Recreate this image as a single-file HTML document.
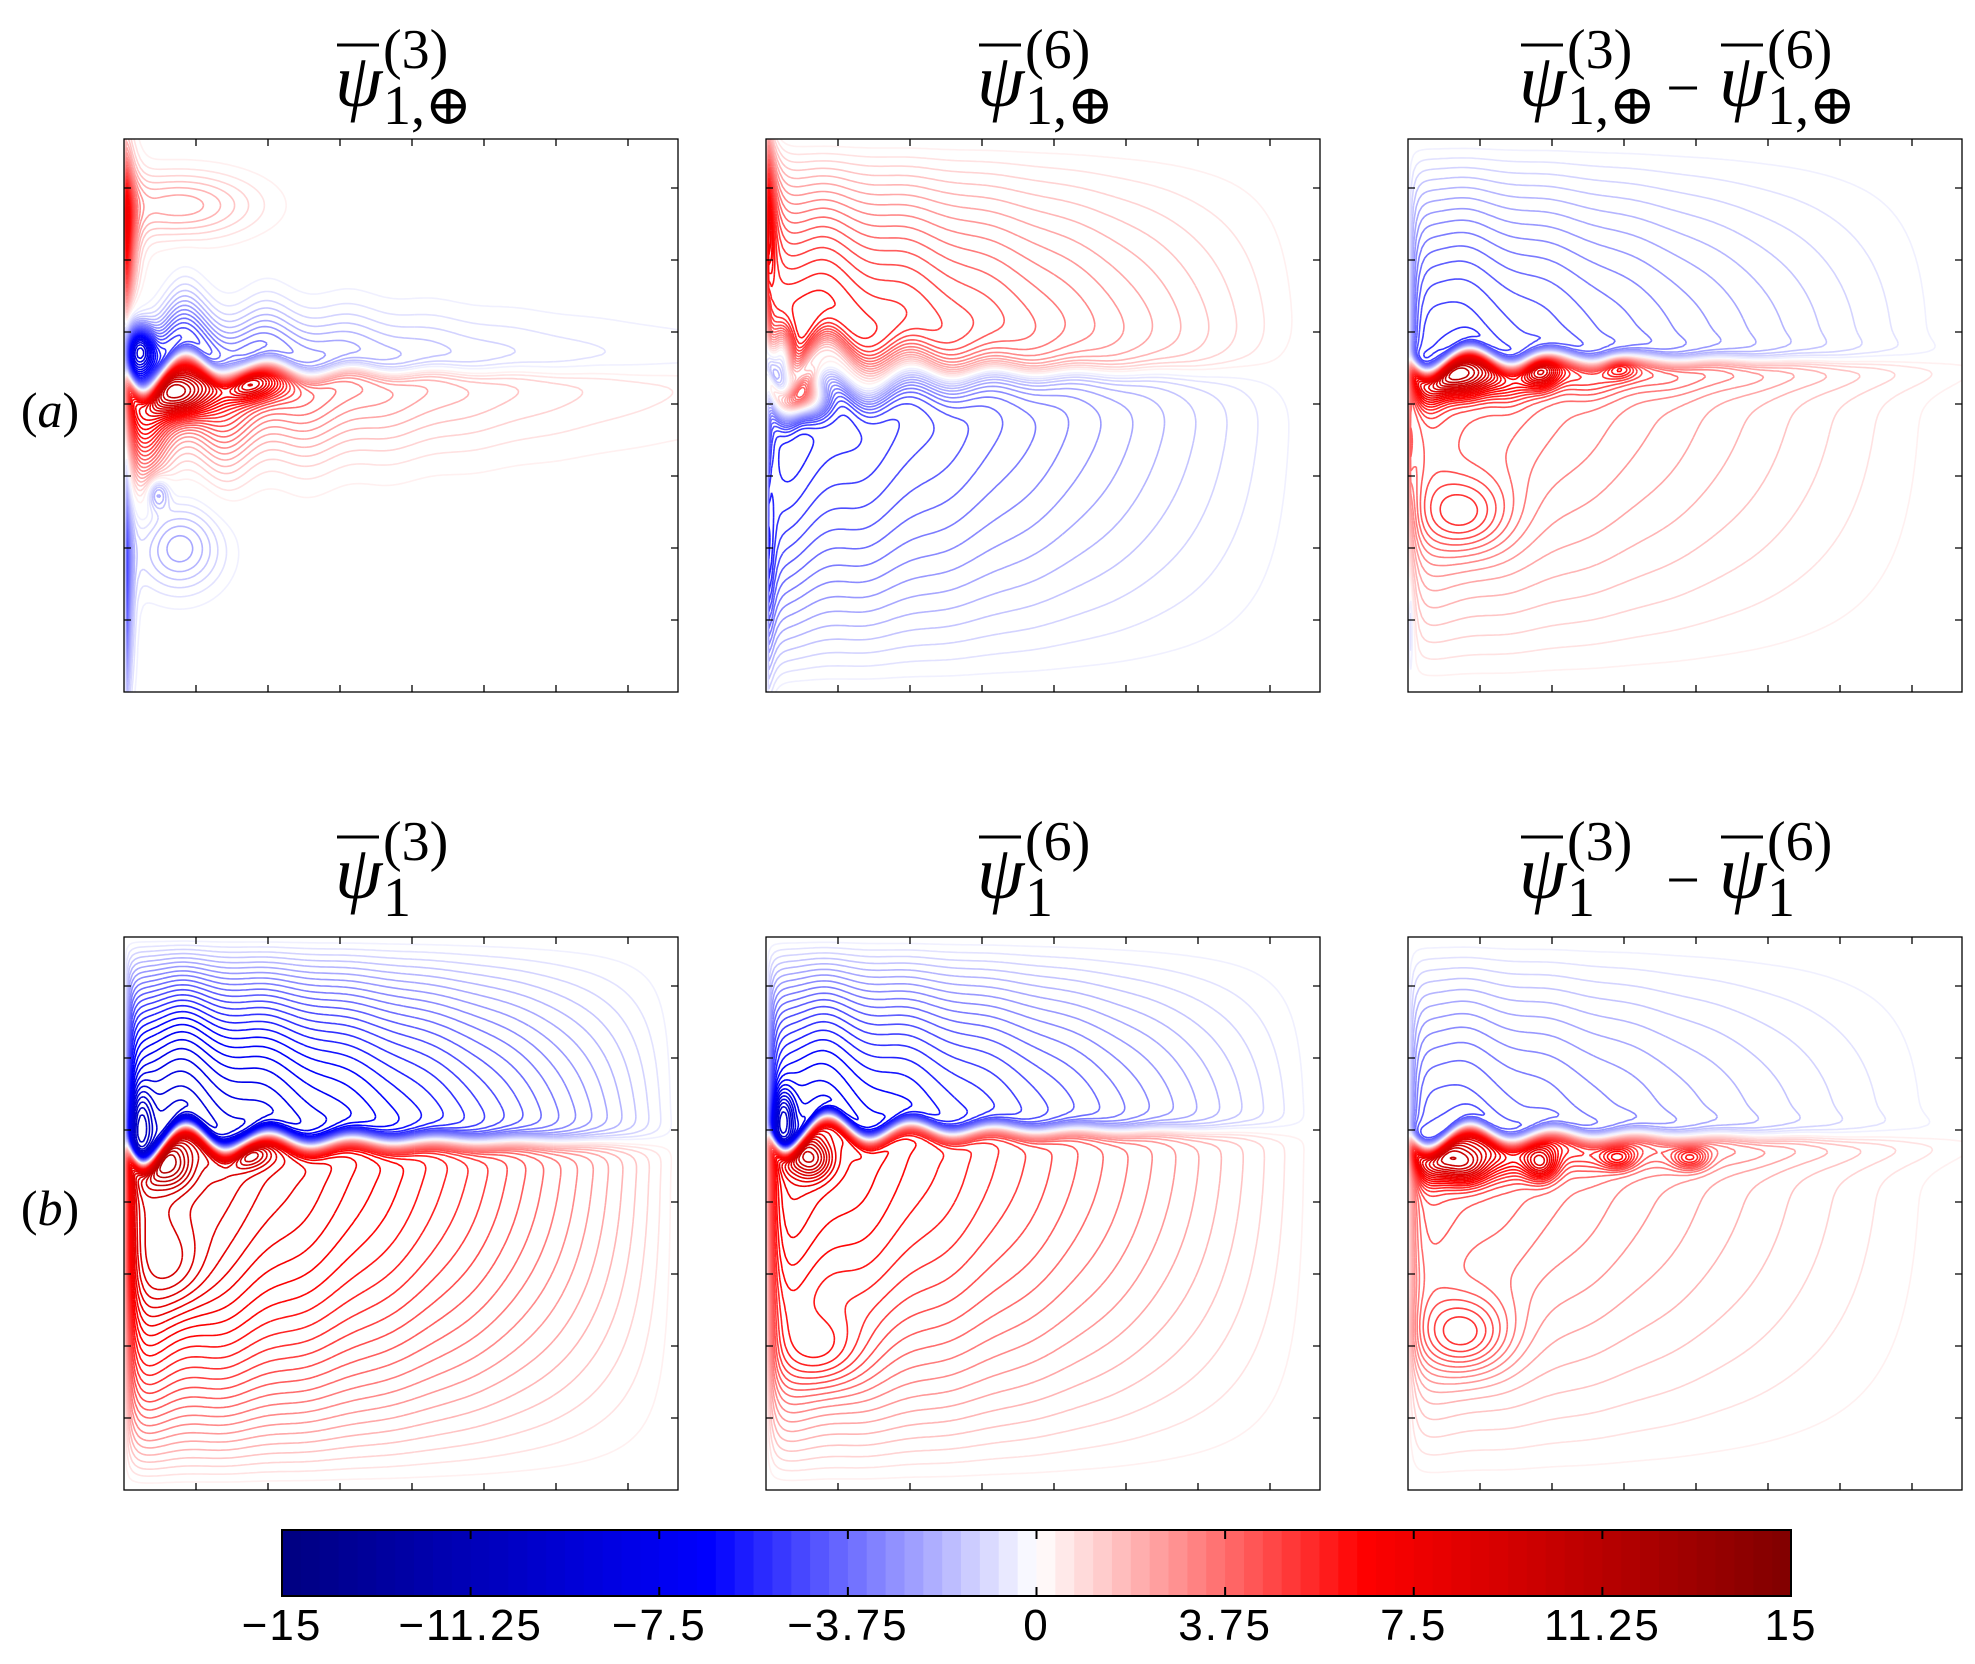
<!DOCTYPE html>
<html><head><meta charset="utf-8">
<style>
html,body{margin:0;padding:0;background:#fff;}
body{width:1975px;height:1659px;overflow:hidden;}
svg text{font-family:"Liberation Serif","DejaVu Serif",serif;}
</style></head>
<body>
<svg id="fig" width="1975" height="1659" viewBox="0 0 1975 1659" xmlns="http://www.w3.org/2000/svg">
</svg>
<script>
// ---- data ----
const levelMin = -15, levelMax = 15, levelStep = 0.375;
const cbTicks = [-15, -11.25, -7.5, -3.75, 0, 3.75, 7.5, 11.25, 15];
const cbLabels = ["\u221215", "\u221211.25", "\u22127.5", "\u22123.75", "0", "3.75", "7.5", "11.25", "15"];
const panelRows = ["a", "a", "a", "b", "b", "b"];
const panelSup = [["(3)"], ["(6)"], ["(3)", "(6)"], ["(3)"], ["(6)"], ["(3)", "(6)"]];
const panelSub = ["1,\u2295", "1,\u2295", "1,\u2295", "1", "1", "1"];
// field components per panel
const compsA1 = [["J", -8, 10, 0.42, 0.02, 0.1, 0.14, 0.4, 0.05], ["S", 14, 0.17, 0.14, 0.012], ["S", -12, 0.8, 0.2, 0.008], ["B", 2.5, 0.1, 0.12, 0.14, 0.06], ["B", -2.5, 0.1, 0.74, 0.08, 0.08], ["B", -3, 0.06, 0.64, 0.02, 0.03], ["B", 8, 0.1, 0.46, 0.05, 0.04], ["B", 6, 0.22, 0.44, 0.06, 0.03], ["B", -7, 0.03, 0.38, 0.025, 0.04]];
const compsA2 = [["G", 8, -7, 0.42, 0.02, 1.0, 0.05], ["J", -9, 10, 0.42, 0.02, 0.05, 0.05, 0.25, 0.05], ["S", 14, 0.15, 0.15, 0.01], ["S", -10, 0.75, 0.2, 0.01], ["B", 6, 0.08, 0.47, 0.035, 0.035], ["B", -6, 0.03, 0.39, 0.02, 0.05]];
const compsA3 = [["G", -6, 5, 0.40, 0.02, 1.0, 0.03], ["J", -4, 8, 0.40, 0.02, 0.03, 0.05, 0.4, 0.03], ["B", 7, 0.1, 0.43, 0.05, 0.035], ["B", 5, 0.24, 0.42, 0.03, 0.03], ["B", 3, 0.38, 0.41, 0.03, 0.02], ["B", 2.5, 0.1, 0.68, 0.08, 0.07], ["S", 8, 0.55, 0.1, 0.006], ["S", -5, 0.88, 0.08, 0.005]];
const compsB1 = [["G", -12, 12, 0.37, 0.02, 0.8, 0.05], ["J", -3, 3, 0.37, 0.02, 0.04, 0.04, 0.3, 0.05], ["B", 2, 0.09, 0.6, 0.06, 0.08], ["B", 5, 0.08, 0.41, 0.04, 0.04], ["B", -4, 0.03, 0.34, 0.02, 0.06], ["B", 4, 0.22, 0.39, 0.04, 0.025]];
const compsB2 = [["G", -9, 9, 0.35, 0.018, 0.9, 0.045], ["J", -4, 4, 0.35, 0.018, 0.03, 0.03, 0.25, 0.045], ["B", 2, 0.1, 0.75, 0.07, 0.07], ["B", 5, 0.08, 0.4, 0.035, 0.035], ["B", -5, 0.03, 0.33, 0.02, 0.05]];
const compsB3 = [["G", -5, 5, 0.36, 0.02, 1.0, 0.03], ["J", -4, 8, 0.36, 0.02, 0.03, 0.05, 0.4, 0.03], ["B", 7, 0.1, 0.41, 0.05, 0.035], ["B", 5, 0.24, 0.41, 0.03, 0.03], ["B", 3, 0.38, 0.4, 0.03, 0.02], ["B", 3, 0.51, 0.4, 0.03, 0.02], ["B", 3, 0.1, 0.72, 0.08, 0.07]];
const panelComps = [compsA1, compsA2, compsA3, compsB1, compsB2, compsB3];

// ---- layout ----
const colX = [124, 766, 1408];
const rowY = [139, 937];
const PW = 554, PH = 553;
const NS = "http://www.w3.org/2000/svg";
const svg = document.getElementById("fig");
function mk(tag, attrs, parent) {
  const e = document.createElementNS(NS, tag);
  for (const k in attrs) e.setAttribute(k, attrs[k]);
  (parent || svg).appendChild(e);
  return e;
}
function color(c) {
  const a = Math.abs(c);
  let r, g, b;
  if (a <= 6.5) { const l = Math.round(255 * (1 - a / 6.5)); r = l; g = l; b = 255; }
  else { const t = Math.min(1, (a - 6.5) / 8.5); r = 0; g = 0; b = Math.round(255 - 127 * t); }
  return c < 0 ? `rgb(${r},${g},${b})` : `rgb(${b},${g},${r})`;
}
function jetV(vj, m, u) { return vj + m * Math.exp(-u / 0.2) * Math.cos(2 * Math.PI * (u - 0.04) / 0.15); }
function field(comps, u, v) {
  let s = 0;
  for (const c of comps) {
    const t = c[0];
    if (t === "G") {
      const [, At, Ab, vj0, w, p, m] = c;
      const vj = jetV(vj0, m, u);
      const top = At * Math.sin(Math.PI / 2 * Math.min(v / vj, 1));
      const bot = Ab * Math.sin(Math.PI / 2 * Math.min((1 - v) / (1 - vj), 1));
      const sm = 0.5 * (1 + Math.tanh((v - vj) / w));
      s += ((1 - sm) * top + sm * bot) * (1 - Math.exp(-u / 0.012)) * Math.pow(Math.max(0, 1 - u), p);
    } else if (t === "J") {
      const [, At, Ab, vj0, w, sT, sB, L, m] = c;
      const vj = jetV(vj0, m, u);
      const top = At * Math.exp(-Math.pow((v - vj) / sT, 2));
      const bot = Ab * Math.exp(-Math.pow((v - vj) / sB, 2));
      const sm = 0.5 * (1 + Math.tanh((v - vj) / w));
      s += ((1 - sm) * top + sm * bot) * Math.exp(-u / L) * (1 - Math.exp(-u / 0.01));
    } else if (t === "B") {
      const [, A, uc, vc, su, sv] = c;
      s += A * Math.exp(-Math.pow((u - uc) / su, 2) - Math.pow((v - vc) / sv, 2));
    } else if (t === "S") {
      const [, A, vc, sv, su] = c;
      s += A * Math.exp(-Math.pow((v - vc) / sv, 2)) * Math.exp(-u / su) * (1 - Math.exp(-u / 0.003));
    }
  }
  return 14.9 * Math.tanh(s / 14.9);
}
const levels = [];
for (let l = levelMin + levelStep; l < levelMax - 1e-9; l += levelStep) if (Math.abs(l) > 1e-9) levels.push(+l.toFixed(4));

const defs = mk("defs", {});
const N = 200;
panelComps.forEach((comps, pi) => {
  const x0 = colX[pi % 3], y0 = rowY[Math.floor(pi / 3)];
  const cp = mk("clipPath", { id: "clip" + pi }, defs);
  mk("rect", { x: x0, y: y0, width: PW, height: PH }, cp);
  const g = mk("g", { "clip-path": `url(#clip${pi})` });
  
  
  const f = new Float64Array((N + 1) * (N + 1));
  for (let j = 0; j <= N; j++) for (let i = 0; i <= N; i++) f[j * (N + 1) + i] = field(comps, i / N, j / N);
  const paths = levels.map(() => []);
  const dx = PW / N, dy = PH / N;
  for (let j = 0; j < N; j++) for (let i = 0; i < N; i++) {
    const a = f[j * (N + 1) + i], b = f[j * (N + 1) + i + 1], c = f[(j + 1) * (N + 1) + i + 1], d = f[(j + 1) * (N + 1) + i];
    const mn = Math.min(a, b, c, d), mx = Math.max(a, b, c, d);
    if (mx < levels[0] || mn > levels[levels.length - 1]) continue;
    const k0 = Math.max(0, Math.ceil((mn - levels[0]) / levelStep) - 1);
    for (let k = k0; k < levels.length; k++) {
      const L = levels[k];
      if (L > mx) break;
      if (L < mn) continue;
      const pts = [];
      const px = x0 + i * dx, py = y0 + j * dy;
      if ((a - L) * (b - L) < 0) pts.push([px + dx * (L - a) / (b - a), py]);
      if ((b - L) * (c - L) < 0) pts.push([px + dx, py + dy * (L - b) / (c - b)]);
      if ((d - L) * (c - L) < 0) pts.push([px + dx * (L - d) / (c - d), py + dy]);
      if ((a - L) * (d - L) < 0) pts.push([px, py + dy * (L - a) / (d - a)]);
      for (let q = 0; q + 1 < pts.length; q += 2)
        paths[k].push("M" + pts[q][0].toFixed(1) + " " + pts[q][1].toFixed(1) + "L" + pts[q + 1][0].toFixed(1) + " " + pts[q + 1][1].toFixed(1));
    }
  }
  levels.forEach((L, k) => {
    if (!paths[k].length) return;
    const p = mk("path", { d: paths[k].join(""), fill: "none", stroke: color(L), "stroke-width": 1.6 }, g);
    
    
  });
  const fr = mk("rect", { x: x0, y: y0, width: PW, height: PH, fill: "none", stroke: "#000", "stroke-width": 1.3 });
  
  
  let td = "";
  for (let k = 1; k <= 7; k++) { const x = x0 + 72 * k; td += `M${x} ${y0}v7M${x} ${y0 + PH}v-7`; }
  for (let k = 0; k <= 6; k++) { const y = y0 + 49 + 72 * k; td += `M${x0} ${y}h7M${x0 + PW} ${y}h-7`; }
  const tk = mk("path", { d: td, stroke: "#000", "stroke-width": 1.3, fill: "none" });
  
  
  // title
  const cx = x0 + PW / 2, ty = pi < 3 ? 0 : 792;
  const tg = mk("g", {});
  
  
  const sups = panelSup[pi];
  const termW = 132, gap = 68;
  const total = sups.length * termW + (sups.length - 1) * gap;
  let sx = cx - total / 2;
  sups.forEach((sp, si) => {
    mk("line", { x1: sx + 2, x2: sx + 44, y1: ty + 45, y2: ty + 45, stroke: "#000", "stroke-width": 3 }, tg);
    const t1 = mk("text", { x: sx, y: ty + 106, "font-size": 76, "font-style": "italic" }, tg); t1.textContent = "\u03C8";
    const t2 = mk("text", { x: sx + 48, y: ty + 68, "font-size": 56 }, tg); t2.textContent = sp;
    const t3 = mk("text", { x: sx + 48, y: ty + 124, "font-size": 56 }, tg); t3.textContent = panelSub[pi];
    if (si < sups.length - 1) { const t4 = mk("text", { x: sx + termW + gap / 2 - 2, y: ty + 108, "font-size": 60, "text-anchor": "middle" }, tg); t4.textContent = "\u2212"; }
    sx += termW + gap;
  });
});
// row labels
[["a", 412], ["b", 1210]].forEach(r => {
  const t = mk("text", { x: 50, y: r[1] + 15, "font-size": 50, "text-anchor": "middle" });
  
  
  t.innerHTML = `(<tspan font-style="italic">${r[0]}</tspan>)`;
});
// colorbar
const cbX0 = 282, cbX1 = 1791, cbY0 = 1530, cbY1 = 1596;
const cbx = v => cbX0 + (v - levelMin) / (levelMax - levelMin) * (cbX1 - cbX0);
const cbg = mk("g", {});


for (let k = 0; k < 80; k++) {
  const v0 = levelMin + k * levelStep, v1 = v0 + levelStep;
  mk("rect", { x: cbx(v0).toFixed(2), y: cbY0, width: (cbx(v1) - cbx(v0) + 0.6).toFixed(2), height: cbY1 - cbY0, fill: color((v0 + v1) / 2) }, cbg);
}
mk("rect", { x: cbX0, y: cbY0, width: cbX1 - cbX0, height: cbY1 - cbY0, fill: "none", stroke: "#000", "stroke-width": 2 }, cbg);
cbTicks.forEach((v, k) => {
  const x = cbx(v);
  mk("path", { d: `M${x} ${cbY0}v9M${x} ${cbY1}v-9`, stroke: "#000", "stroke-width": 2 }, cbg);
  const t = mk("text", { x: x, y: 1640, "font-size": 44, "text-anchor": "middle", style: "font-family:'Liberation Sans',sans-serif;letter-spacing:2px" }, cbg);
  t.textContent = cbLabels[k];
  
  
});
</script>
</body></html>
